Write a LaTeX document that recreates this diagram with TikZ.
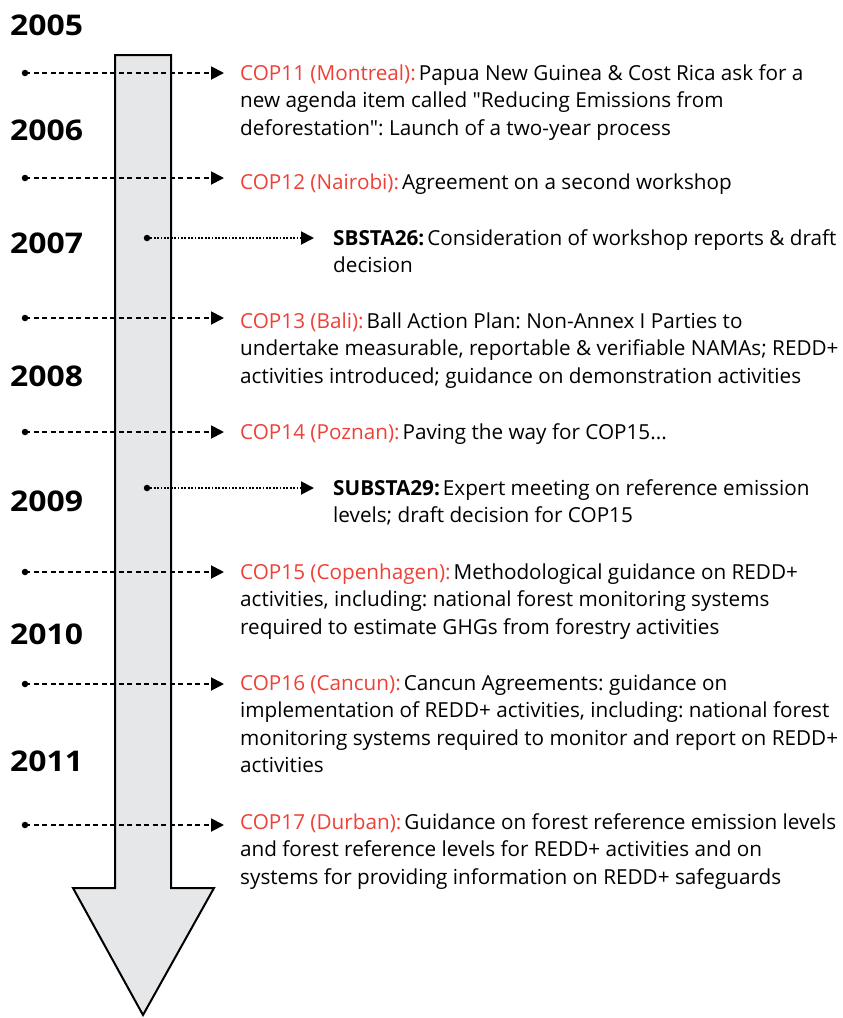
\documentclass[tikz,border=0pt]{standalone}
\usepackage{fontspec}
\setmainfont{Open Sans}[Ligatures=TeXOff]
\usetikzlibrary{arrows.meta}
\frenchspacing
\definecolor{copred}{HTML}{EE4037}
\definecolor{shaft}{HTML}{E6E7E8}
\tikzset{
  year/.style={anchor=west, inner sep=0pt, font=\fontsize{28.5}{30}\selectfont\bfseries},
  event/.style={anchor=north west, inner sep=0pt, align=left, font=\fontsize{20.7}{27.5}\selectfont},
  dashlink/.style={line width=1.9pt, dash pattern=on 5pt off 3.5pt, -{Triangle[length=13pt,width=13pt]}},
  dotlink/.style={line width=1.9pt, dash pattern=on 1.8pt off 1.6pt, -{Triangle[length=13pt,width=13pt]}},
  startdot/.style={circle, fill=black, inner sep=0pt, minimum size=6.5pt},
  body/.style={fill=shaft, draw=black, line width=2pt, line join=miter}
}
\newcommand{\cop}[1]{\strut\textcolor{copred}{#1}\hspace{3pt}}
\newcommand{\sbsta}[1]{\strut\textbf{#1}\hspace{3pt}}
\newcommand{\yr}[1]{\scalebox{1.12}[1]{#1}}
\begin{document}
\begin{tikzpicture}[x=1pt,y=-1pt]
\useasboundingbox (0,0) rectangle (843,1018);
% big arrow
\draw[body] (115,55) -- (171,55) -- (171,888) -- (214,888) -- (143,1015) -- (73,888) -- (115,888) -- cycle;
% years
\node[year] (y2005) at (10,25) {\yr{2005}};
\node[year] (y2006) at (10,130) {\yr{2006}};
\node[year] (y2007) at (10,243) {\yr{2007}};
\node[year] (y2008) at (10,376) {\yr{2008}};
\node[year] (y2009) at (10,501) {\yr{2009}};
\node[year] (y2010) at (10,634) {\yr{2010}};
\node[year] (y2011) at (10,761) {\yr{2011}};
% events (top = first-line centre - 12.25)
\node[event] (e1) at (240,60.75) {\cop{COP11 (Montreal):}Papua New Guinea \& Cost Rica ask for a\\new agenda item called "Reducing Emissions from\\deforestation": Launch of a two-year process};
\node[event] (e2) at (240,169.75) {\cop{COP12 (Nairobi):}Agreement on a second workshop};
\node[event] (e3) at (333,225.75) {\sbsta{SBSTA26:}Consideration of workshop reports \& draft\\decision};
\node[event] (e4) at (240,308.75) {\cop{COP13 (Bali):}Ball Action Plan: Non-Annex I Parties to\\undertake measurable, reportable \& verifiable NAMAs; REDD+\\activities introduced; guidance on demonstration activities};
\node[event] (e5) at (240,419.75) {\cop{COP14 (Poznan):}Paving the way for COP15...};
\node[event] (e6) at (333,475.75) {\sbsta{SUBSTA29:}Expert meeting on reference emission\\levels; draft decision for COP15};
\node[event] (e7) at (240,559.75) {\cop{COP15 (Copenhagen):}Methodological guidance on REDD+\\activities, including: national forest monitoring systems\\required to estimate GHGs from forestry activities};
\node[event] (e8) at (240,670.75) {\cop{COP16 (Cancun):}Cancun Agreements: guidance on\\implementation of REDD+ activities, including: national forest\\monitoring systems required to monitor and report on REDD+\\activities};
\node[event] (e9) at (240,809.75) {\cop{COP17 (Durban):}Guidance on forest reference emission levels\\and forest reference levels for REDD+ activities and on\\systems for providing information on REDD+ safeguards};
% start dots and arrow ends
\foreach \n/\y in {1/73,2/178,4/318,5/432,7/572,8/684,9/825}{
  \node[startdot] (s\n) at (25,\y) {};
  \coordinate (t\n) at (224,\y);
  \draw[dashlink] (s\n.center) -- (t\n);
}
\foreach \n/\y in {3/238,6/488}{
  \node[startdot] (s\n) at (147,\y) {};
  \coordinate (t\n) at (314,\y);
  \draw[dotlink] (s\n.center) -- (t\n);
}
\end{tikzpicture}
\end{document}
